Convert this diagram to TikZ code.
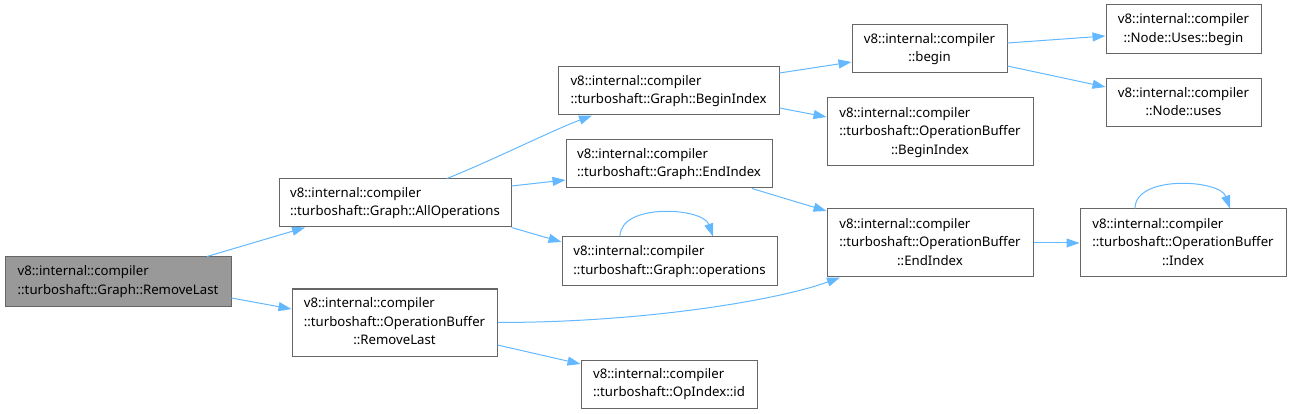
\documentclass[tikz,border=0pt]{standalone}
\usepackage{fontspec}
\setmainfont{Noto Sans}
\usetikzlibrary{arrows.meta}
\definecolor{edgeblue}{HTML}{63B8FF}
\definecolor{boxline}{HTML}{666666}
\definecolor{rootfill}{HTML}{999999}
\newcommand{\lbltwo}[2]{\begin{tabular}{@{}c@{}}\multicolumn{1}{@{}l@{}}{#1}\\#2\end{tabular}}
\newcommand{\lblthree}[3]{\begin{tabular}{@{}c@{}}\multicolumn{1}{@{}l@{}}{#1}\\\multicolumn{1}{@{}l@{}}{#2}\\#3\end{tabular}}
\begin{document}
\begin{tikzpicture}[x=1pt,y=-1pt,
  fn/.style={draw=boxline, line width=1pt, fill=white, inner sep=0pt, font=\fontsize{13.2}{18.5}\selectfont},
  rootfn/.style={fn, fill=rootfill},
  edge/.style={draw=edgeblue, line width=1pt, -{Triangle[length=13pt,width=9pt]}}]
\useasboundingbox (0,0) rectangle (1291,414);
\renewcommand{\arraystretch}{1.0}
\node[rootfn, minimum width=226pt, minimum height=49pt] (root) at (118,281.5) {\lbltwo{v8::internal::compiler}{::turboshaft::Graph::RemoveLast}};
\node[fn, minimum width=232pt, minimum height=48pt] (allops) at (395,203) {\lbltwo{v8::internal::compiler}{::turboshaft::Graph::AllOperations}};
\node[fn, minimum width=205pt, minimum height=67pt] (obrl) at (394.5,322.5) {\lblthree{v8::internal::compiler}{::turboshaft::OperationBuffer}{::RemoveLast}};
\node[fn, minimum width=221pt, minimum height=48pt] (bi) at (668.5,91) {\lbltwo{v8::internal::compiler}{::turboshaft::Graph::BeginIndex}};
\node[fn, minimum width=206pt, minimum height=48pt] (ei) at (669,164) {\lbltwo{v8::internal::compiler}{::turboshaft::Graph::EndIndex}};
\node[fn, minimum width=215pt, minimum height=49pt] (ops) at (669.5,261.5) {\lbltwo{v8::internal::compiler}{::turboshaft::Graph::operations}};
\node[fn, minimum width=176pt, minimum height=48pt] (id) at (669,384) {\lbltwo{v8::internal::compiler}{::turboshaft::OpIndex::id}};
\node[fn, minimum width=155pt, minimum height=48pt] (begin) at (929.5,49) {\lbltwo{v8::internal::compiler}{::begin}};
\node[fn, minimum width=206pt, minimum height=68pt] (obbi) at (930,132) {\lblthree{v8::internal::compiler}{::turboshaft::OperationBuffer}{::BeginIndex}};
\node[fn, minimum width=206pt, minimum height=68pt] (obei) at (930,243) {\lblthree{v8::internal::compiler}{::turboshaft::OperationBuffer}{::EndIndex}};
\node[fn, minimum width=155pt, minimum height=49pt] (usesbegin) at (1183.5,29.5) {\lbltwo{v8::internal::compiler}{::Node::Uses::begin}};
\node[fn, minimum width=155pt, minimum height=48pt] (uses) at (1183.5,103) {\lbltwo{v8::internal::compiler}{::Node::uses}};
\node[fn, minimum width=206pt, minimum height=68pt] (obi) at (1183,243) {\lblthree{v8::internal::compiler}{::turboshaft::OperationBuffer}{::Index}};

\draw[edge] ([xshift=89pt]root.north) -- ([xshift=-90pt]allops.south);
\draw[edge] ([yshift=-16.5pt]root.east) -- ([yshift=13.5pt]obrl.west);
\draw[edge] ([xshift=52pt]allops.north) .. controls +(45,-18) and +(-40,15) .. ([xshift=-76.5pt]bi.south);
\draw[edge] ([yshift=17pt]allops.east) -- ([yshift=-16pt]ei.west);
\draw[edge] (allops.south east) -- ([yshift=19.5pt]ops.west);
\draw[edge] ([xshift=-49.5pt]ops.north) .. controls +(0,-34) and +(-10,-29) .. ([xshift=43.5pt]ops.north);
\draw[edge] ([yshift=18pt]bi.east) -- ([yshift=-13pt]begin.west);
\draw[edge] ([yshift=-17pt]bi.east) -- ([yshift=15pt]obbi.west);
\draw[edge] ([xshift=83pt]ei.south) -- ([yshift=32pt]obei.west);
\draw[edge] (obrl.east) .. controls +(150,0) and +(-60,22) .. ([xshift=-90pt]obei.south);
\draw[edge] ([yshift=-22.5pt]obrl.east) -- ([yshift=20pt]id.west);
\draw[edge] ([yshift=6pt]begin.east) -- ([yshift=-6.5pt]usesbegin.west);
\draw[edge] ([yshift=-17pt]begin.east) -- ([yshift=16pt]uses.west);
\draw[edge] (obei.east) -- (obi.west);
\draw[edge] ([xshift=-48pt]obi.north) .. controls +(0,-34) and +(-10,-29) .. ([xshift=47pt]obi.north);
\end{tikzpicture}
\end{document}
